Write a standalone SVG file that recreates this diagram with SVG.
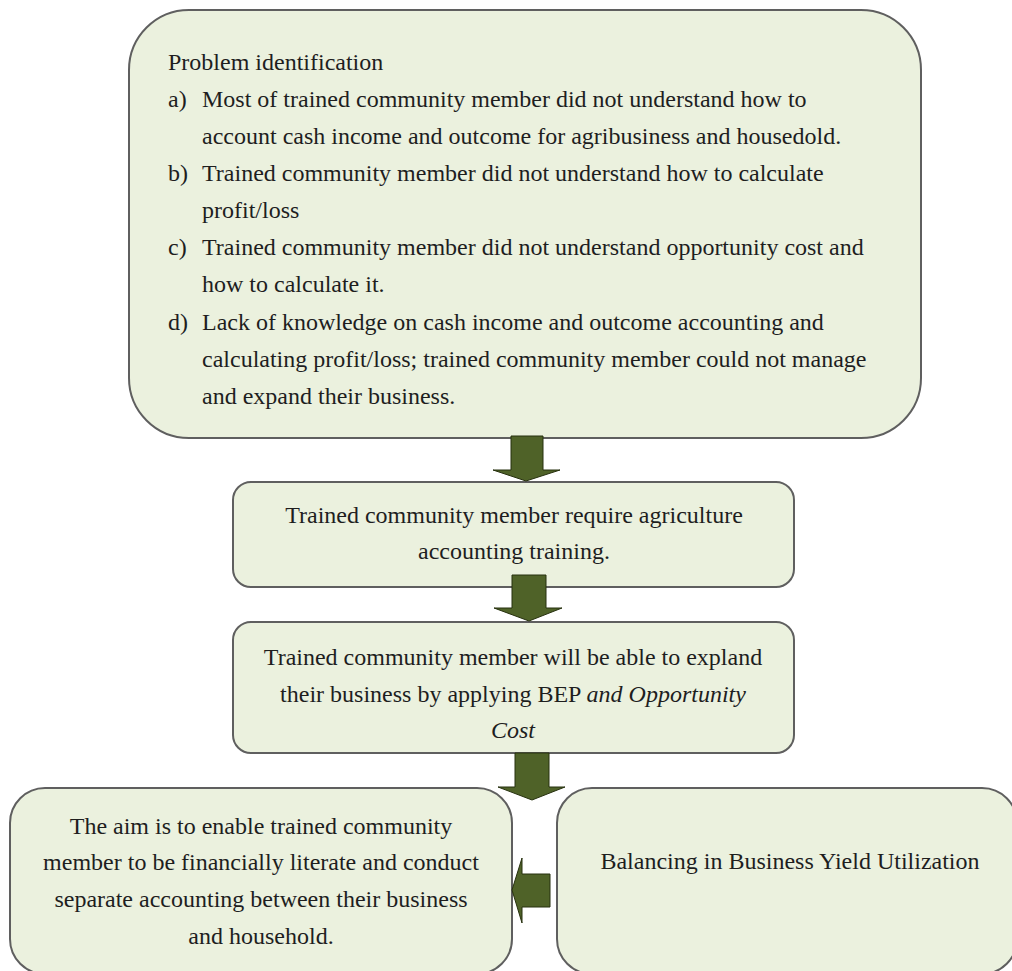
<svg xmlns="http://www.w3.org/2000/svg" width="1012" height="971" viewBox="0 0 1012 971">
<style>
.box{fill:#EBF1DE;stroke:#5f5f5f;stroke-width:2}
.arr{fill:#4F6228;stroke:#27310f;stroke-width:1}
text{font-family:"Liberation Serif","Times New Roman",serif;font-size:24px;fill:#1e1e1e}
.c{text-anchor:middle}
.i{font-style:italic}
</style>
<rect width="1012" height="971" fill="#ffffff"/>
<g id="node-problem">
<rect class="box" x="129" y="10" width="792" height="428" rx="60" ry="60"/>
<text x="168" y="70">Problem identification</text>
<text x="168" y="107">a)</text>
<text x="202" y="107">Most of trained community member did not understand how to</text>
<text x="202" y="144">account cash income and outcome for agribusiness and housedold.</text>
<text x="168" y="181">b)</text>
<text x="202" y="181">Trained community member did not understand how to calculate</text>
<text x="202" y="218">profit/loss</text>
<text x="168" y="255">c)</text>
<text x="202" y="255">Trained community member did not understand opportunity cost and</text>
<text x="202" y="292">how to calculate it.</text>
<text x="168" y="330">d)</text>
<text x="202" y="330">Lack of knowledge on cash income and outcome accounting and</text>
<text x="202" y="367">calculating profit/loss; trained community member could not manage</text>
<text x="202" y="404">and expand their business.</text>
</g>
<g id="node-training">
<rect class="box" x="233" y="482" width="561" height="105" rx="18" ry="18"/>
<text class="c" x="514" y="523">Trained community member require agriculture</text>
<text class="c" x="514" y="559">accounting training.</text>
</g>
<g id="node-expand">
<rect class="box" x="233" y="622" width="561" height="131" rx="18" ry="18"/>
<text class="c" x="513" y="665">Trained community member will be able to expland</text>
<text class="c" x="513" y="702">their business by applying BEP <tspan class="i">and Opportunity</tspan></text>
<text class="c i" x="513" y="738">Cost</text>
</g>
<g id="node-aim">
<rect class="box" x="10" y="788" width="502" height="186" rx="35" ry="35"/>
<text class="c" x="261" y="834">The aim is to enable trained community</text>
<text class="c" x="261" y="870">member to be financially literate and conduct</text>
<text class="c" x="261" y="907">separate accounting between their business</text>
<text class="c" x="261" y="944">and household.</text>
</g>
<g id="node-balancing">
<rect class="box" x="557" y="788" width="460" height="186" rx="35" ry="35"/>
<text class="c" x="790" y="869">Balancing in Business Yield Utilization</text>
</g>
<g id="connectors">
<polygon class="arr" points="511,436 543,436 543,470 560,470 526,481 493,470 511,470"/>
<polygon class="arr" points="512,575 546,575 546,608 562,608 529,621 494,608 512,608"/>
<polygon class="arr" points="515,753 549,753 549,787 565,787 532,800 498,787 515,787"/>
<polygon class="arr" points="550,874 550,907 522,907 522,923 512,890 522,858 522,874"/>
</g>
</svg>
